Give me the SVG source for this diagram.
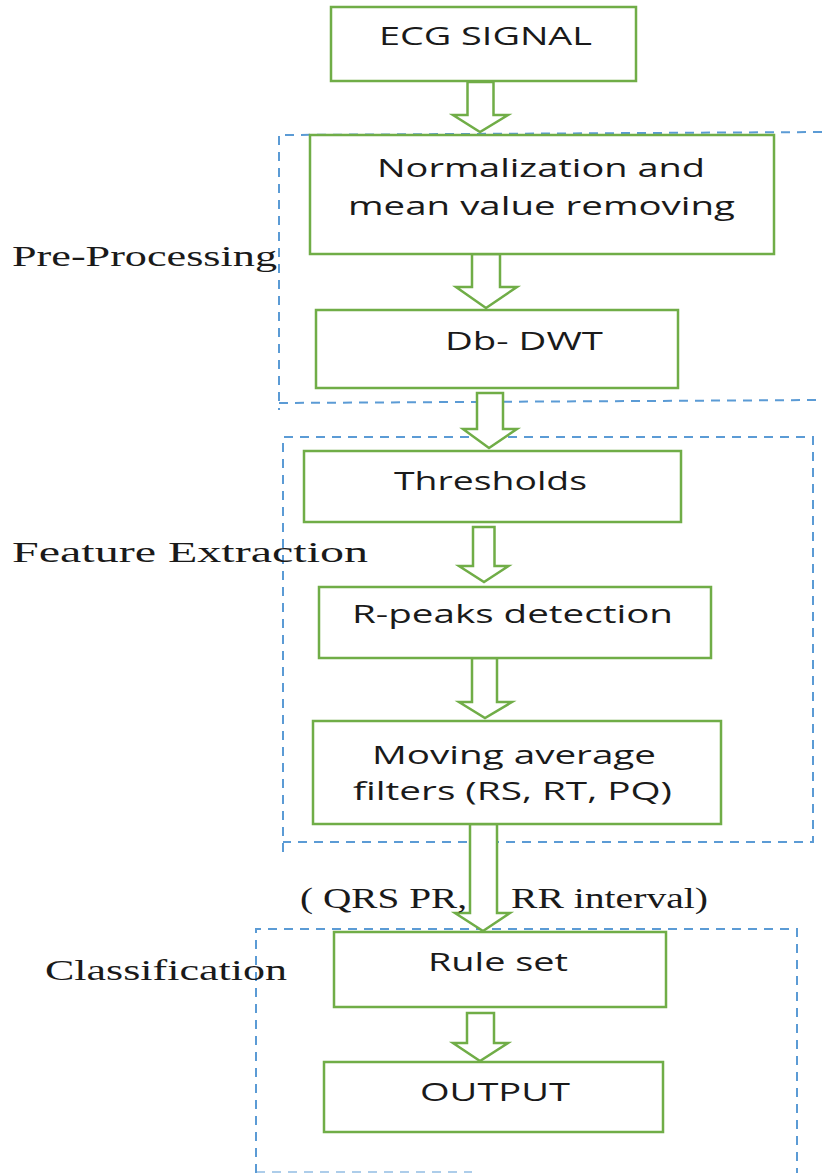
<svg xmlns="http://www.w3.org/2000/svg" width="822" height="1173" viewBox="0 0 822 1173">
<style>
.box{fill:#fff;stroke:#70AD47;stroke-width:2.5}
.arr{fill:#fff;stroke:#70AD47;stroke-width:2.5;stroke-linejoin:miter}
.grp{fill:none;stroke:#5B9BD5;stroke-width:2;stroke-dasharray:9,7}
.t{font-family:"Open Sans","Noto Sans",sans-serif;font-size:26px;fill:#1a1a1a}
.s{font-family:"Liberation Serif","Times New Roman",serif;font-size:29px;fill:#1a1a1a}
</style>
<rect width="822" height="1173" fill="#fff"/>
<g id="groups">
<path class="grp" d="M822,132 L279,135 L279,410"/>
<path class="grp" d="M279,403 L822,400"/>
<path class="grp" d="M283,852 L283,437 L813,437 L813,842 L283,842"/>
<path class="grp" d="M256,1173 L256,929 L797,929 L797,1173"/>
<path class="grp" d="M256,1172 L472,1172" stroke-opacity="0.5"/>
</g>
<g id="labels">
<text class="s" x="12" y="266" textLength="265" lengthAdjust="spacingAndGlyphs">Pre-Processing</text>
<text class="s" x="12" y="562" textLength="356" lengthAdjust="spacingAndGlyphs">Feature Extraction</text>
<text class="s" x="45" y="980" textLength="242" lengthAdjust="spacingAndGlyphs">Classification</text>
</g>
<g id="connectors">
<polygon class="arr" points="467.5,82 493.5,82 493.5,115 508,115 480,132 453,115 467.5,115"/>
<polygon class="arr" points="472,254 500,254 500,287 517,287 486,308 456,287 472,287"/>
<polygon class="arr" points="477,393 503,393 503,429 517,429 489,448 463,429 477,429"/>
<polygon class="arr" points="473,527 494.5,527 494.5,566 508.5,566 484,582 459,566 473,566"/>
<polygon class="arr" points="472,658 497,658 497,702 512,702 485,718 459,702 472,702"/>
<polygon class="arr" points="470,824 497,824 497,913 510,913 483,931 455,913 470,913"/>
<polygon class="arr" points="467,1013 494,1013 494,1043 508,1043 480,1061 453,1043 467,1043"/>
<text class="s" x="300" y="908" textLength="167" lengthAdjust="spacingAndGlyphs">( QRS PR,</text>
<text class="s" x="511" y="908" textLength="197" lengthAdjust="spacingAndGlyphs">RR interval)</text>
</g>
<g id="ecg"><rect class="box" x="331" y="7" width="305" height="74"/><text class="t" x="379" y="45" textLength="213" lengthAdjust="spacingAndGlyphs">ECG SIGNAL</text></g>
<g id="normalization"><rect class="box" x="310" y="135" width="464" height="119"/><text class="t" x="377" y="177" textLength="328" lengthAdjust="spacingAndGlyphs">Normalization and</text><text class="t" x="348" y="215" textLength="387" lengthAdjust="spacingAndGlyphs">mean value removing</text></g>
<g id="dwt"><rect class="box" x="316" y="310" width="362" height="78"/><text class="t" x="445" y="350" textLength="158" lengthAdjust="spacingAndGlyphs">Db- DWT</text></g>
<g id="thresholds"><rect class="box" x="304" y="451" width="377" height="71"/><text class="t" x="394" y="490" textLength="193" lengthAdjust="spacingAndGlyphs">Thresholds</text></g>
<g id="rpeaks"><rect class="box" x="319" y="587" width="392" height="71"/><text class="t" x="352" y="623" textLength="321" lengthAdjust="spacingAndGlyphs">R-peaks detection</text></g>
<g id="moving"><rect class="box" x="313" y="721" width="408" height="103"/><text class="t" x="372" y="764" textLength="284" lengthAdjust="spacingAndGlyphs">Moving average</text><text class="t" x="353" y="800" textLength="319" lengthAdjust="spacingAndGlyphs">filters (RS, RT, PQ)</text></g>
<g id="ruleset"><rect class="box" x="334" y="932" width="332" height="75"/><text class="t" x="428" y="971" textLength="140" lengthAdjust="spacingAndGlyphs">Rule set</text></g>
<g id="output"><rect class="box" x="324" y="1062" width="339" height="70"/><text class="t" x="420" y="1101" textLength="150" lengthAdjust="spacingAndGlyphs">OUTPUT</text></g>
</svg>
